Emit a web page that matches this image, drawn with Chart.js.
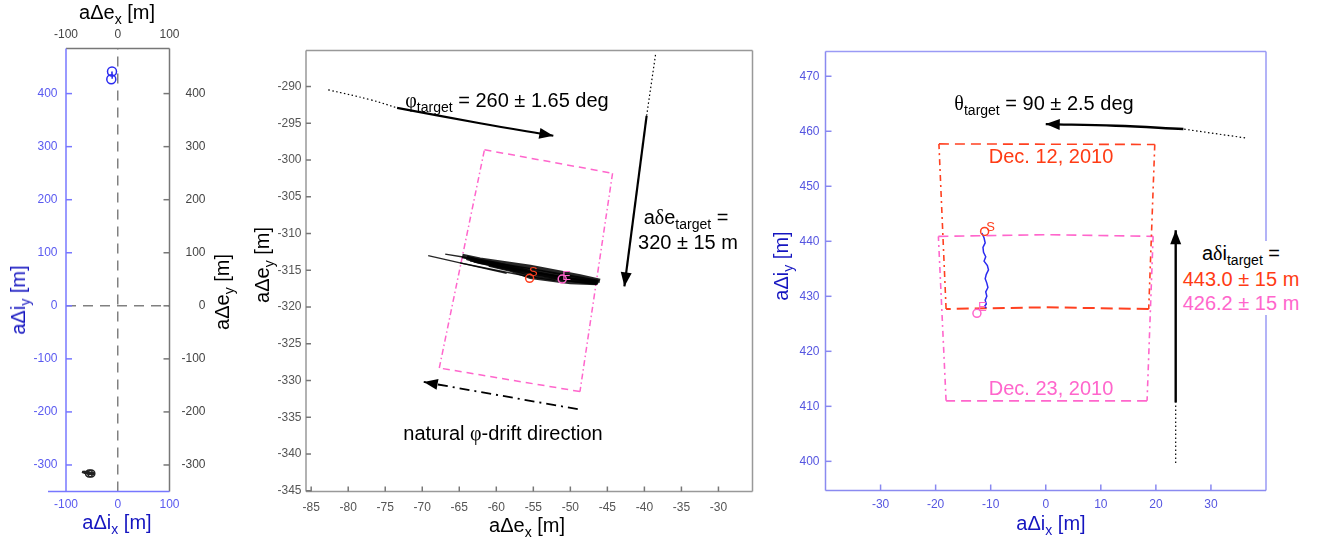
<!DOCTYPE html>
<html>
<head>
<meta charset="utf-8">
<script src="https://cdn.jsdelivr.net/npm/chart.js@4.4.1/dist/chart.umd.min.js"></script>
<style>
body { margin: 0; background: #fff; }
#wrap { position: relative; width: 1324px; height: 543px; overflow: hidden; font-family: 'Liberation Sans', Arial, sans-serif; }
canvas { position: absolute; left: 0; top: 0; }
.t { position: absolute; transform: translate(-50%, -50%); white-space: nowrap; font-size: 20px; line-height: 1; color: #000; }
.r { transform: translate(-50%, -50%) rotate(-90deg); }
.s { font-size: 14px; position: relative; top: 5px; }
.g { font-family: 'Liberation Serif', 'DejaVu Serif', serif; }
.blue { color: #1515c0; }
.red { color: #ff3b14; }
.pink { color: #ff66cc; }
#dibox { position: absolute; left: 1182px; top: 241px; width: 118px; background: #fff; text-align: center; font-size: 20px; line-height: 24px; white-space: nowrap; }
</style>
</head>
<body>
<div id="wrap">
  <canvas id="p1" width="1324" height="543"></canvas>
  <canvas id="p2" width="1324" height="543"></canvas>
  <canvas id="p3" width="1324" height="543"></canvas>

  <div class="t" style="left:117px;top:12px">aΔe<span class="s">x</span> [m]</div>
  <div class="t blue" style="left:117px;top:522px">aΔi<span class="s">x</span> [m]</div>
  <div class="t r blue" style="left:18px;top:300px">aΔi<span class="s">y</span> [m]</div>
  <div class="t r" style="left:222px;top:292px">aΔe<span class="s">y</span> [m]</div>

  <div class="t r" style="left:262px;top:265px">aΔe<span class="s">y</span> [m]</div>
  <div class="t" style="left:527px;top:525px">aΔe<span class="s">x</span> [m]</div>
  <div class="t" style="left:507px;top:100px"><span class="g">φ</span><span class="s">target</span> = 260 ± 1.65 deg</div>
  <div class="t" style="left:686px;top:217px">a<span class="g">δ</span>e<span class="s">target</span> =</div>
  <div class="t" style="left:688px;top:242px">320 ± 15 m</div>
  <div class="t" style="left:503px;top:433px">natural <span class="g">φ</span>-drift direction</div>

  <div class="t blue" style="left:1051px;top:523px">aΔi<span class="s">x</span> [m]</div>
  <div class="t r blue" style="left:781px;top:266px">aΔi<span class="s">y</span> [m]</div>
  <div class="t" style="left:1044px;top:103px"><span class="g">θ</span><span class="s">target</span> = 90 ± 2.5 deg</div>
  <div class="t red" style="left:1051px;top:156px">Dec. 12, 2010</div>
  <div class="t pink" style="left:1051px;top:388px">Dec. 23, 2010</div>
  <div id="dibox">
    <div>a<span class="g">δ</span>i<span class="s">target</span> =</div>
    <div class="red">443.0 ± 15 m</div>
    <div class="pink">426.2 ± 15 m</div>
  </div>
</div>

<script>
// tick values
const p1XTicks = [-100, 0, 100];
const p1YTicks = [-300, -200, -100, 0, 100, 200, 300, 400];
const p2XTicks = [-85, -80, -75, -70, -65, -60, -55, -50, -45, -40, -35, -30];
const p2YTicks = [-345, -340, -335, -330, -325, -320, -315, -310, -305, -300, -295, -290];
const p3XTicks = [-30, -20, -10, 0, 10, 20, 30];
const p3YTicks = [400, 410, 420, 430, 440, 450, 460, 470];

// relative e-vector, several overlapping passes (aΔe_x, aΔe_y)
const ePass1X = [-64.6, -62.2, -55.4, -48.7, -46.0];
const ePass1Y = [-313.05, -313.55, -314.55, -315.85, -316.45];
const ePass2X = [-64.0, -62.2, -55.4, -48.7, -46.2];
const ePass2Y = [-313.3, -313.85, -315.0, -316.15, -316.6];
const ePass3X = [-63.0, -60.0, -55.4, -48.7, -46.3];
const ePass3Y = [-313.65, -314.35, -315.45, -316.45, -316.7];
const ePass4X = [-61.0, -58.0, -55.4, -50.0, -46.5];
const ePass4Y = [-314.3, -315.0, -315.95, -316.65, -316.8];
const ePass8X = [-63.5, -60.0, -55.4, -50.0, -46.4];
const ePass8Y = [-313.5, -314.15, -315.25, -316.3, -316.65];
const ePass5X = [-69.2, -64.0, -58.6];
const ePass5Y = [-313.0, -314.2, -315.4];
const ePass6X = [-66.9, -64.5, -62.2];
const ePass6Y = [-312.8, -313.2, -313.8];
const ePass7X = [-64.9, -60.0, -55.4, -52.0];
const ePass7Y = [-314.0, -315.0, -315.9, -316.4];
const eStart = [-55.5, -316.1];
const eEnd = [-51.1, -316.2];

// relative i-vector (aΔi_x, aΔi_y)
const iTrackX = [-11.6, -11.2, -11.0, -11.4, -11.3, -10.9, -11.2, -10.6, -10.4, -10.8, -11.0, -10.7, -10.5, -10.9, -10.7, -11.0, -10.8, -11.1, -10.8];
const iTrackY = [441.5, 440.6, 439.7, 438.9, 438.0, 437.2, 436.4, 435.6, 434.8, 434.0, 433.2, 432.4, 431.6, 430.8, 430.0, 429.3, 428.6, 428.2, 427.9];
const iStart = [-11.1, 441.8];
const iEnd = [-12.5, 426.9];

// target windows
const eWinX = [-61.6, -44.3, -48.7, -67.7];
const eWinY = [-298.6, -301.8, -331.5, -328.3];
const dec12X = [-19.4, 19.8, 18.7, 0, -18.1];
const dec12Y = [457.7, 457.6, 427.7, 428.0, 427.7];
const dec23X = [-19.5, 0, 19.5, 18.4, -18.1];
const dec23Y = [440.9, 441.2, 440.9, 411.0, 411.0];

// annotation arrows
const phiDotX = [-82.7, -77.0, -73.4];
const phiDotY = [-290.45, -291.8, -292.9];
const phiArrX = [-73.4, -62.2, -52.3];
const phiArrY = [-292.9, -295.0, -296.7];
const deDotX = [-38.5, -39.7];
const deDotY = [-285.7, -294.0];
const deArrX = [-39.7, -42.7];
const deArrY = [-294.0, -317.2];
const driftX = [-49.0, -69.8];
const driftY = [-333.9, -330.2];
const thDotX = [36.2, 25.0];
const thDotY = [458.8, 460.4];
const thArrX = [25.0, 12.7, 0.0];
const thArrY = [460.4, 461.0, 461.3];
const diDotX = [23.6, 23.6];
const diDotY = [399.7, 410.7];
const diArrX = [23.6, 23.6];
const diArrY = [410.7, 442.0];

const RED = '#ff4020';
const PINK = '#ff66cc';
const BLUE = '#2b2bf0';

Chart.defaults.font.family = "'Liberation Sans', Arial, sans-serif";
Chart.defaults.font.size = 12;

function mk(xs, ys) {
  return xs.map((x, i) => ({x: x, y: ys[i]}));
}

function line(xs, ys, color, width, dash, extra) {
  return Object.assign({
    data: mk(xs, ys), showLine: true, pointRadius: 0,
    borderColor: color, borderWidth: width, borderDash: dash || [],
    fill: false, tension: 0
  }, extra || {});
}

function edge(xs, ys, idx, color, width, dash) {
  return line(idx.map(i => xs[i]), idx.map(i => ys[i]), color, width, dash);
}

function marker(pt, color, r, extra) {
  return Object.assign({
    data: [{x: pt[0], y: pt[1]}], showLine: false, pointRadius: r,
    pointStyle: 'circle', pointBorderColor: color, pointBackgroundColor: 'rgba(0,0,0,0)',
    pointBorderWidth: 1.5
  }, extra || {});
}

function axis(pos, min, max, vals, color, size, pad, extra) {
  return {
    type: 'linear', position: pos, min: min, max: max,
    afterBuildTicks: s => { s.ticks = vals.map(v => ({value: v})); },
    afterFit: s => { if (s.isHorizontal()) s.height = size; else s.width = size; },
    grid: {display: false, drawTicks: false},
    border: {display: false},
    ticks: Object.assign({color: color, padding: pad, autoSkip: false, maxRotation: 0}, extra || {})
  };
}

// box round the plot area plus inward tick marks
function framePlugin(cfg) {
  return {
    id: 'frame',
    afterDatasetsDraw(chart) {
      const {left, right, top, bottom} = chart.chartArea;
      const ctx = chart.ctx;
      ctx.save();
      ctx.lineWidth = cfg.width;
      const side = (c, x1, y1, x2, y2) => {
        ctx.strokeStyle = c;
        ctx.beginPath(); ctx.moveTo(x1, y1); ctx.lineTo(x2, y2); ctx.stroke();
      };
      side(cfg.top, left, top, right, top);
      side(cfg.right, right, top, right, bottom);
      side(cfg.bottom, left - (cfg.bottomExtend || 0), bottom, right, bottom);
      side(cfg.left, left, top, left, bottom);
      (cfg.ticks || []).forEach(t => {
        const s = chart.scales[t.id];
        ctx.strokeStyle = t.color;
        s.ticks.forEach(tk => {
          const p = s.getPixelForValue(tk.value);
          ctx.beginPath();
          if (s.isHorizontal()) {
            const y0 = s.position === 'top' ? top : bottom;
            const d = s.position === 'top' ? 1 : -1;
            ctx.moveTo(p, y0); ctx.lineTo(p, y0 + d * cfg.len);
          } else {
            const x0 = s.position === 'left' ? left : right;
            const d = s.position === 'left' ? 1 : -1;
            ctx.moveTo(x0, p); ctx.lineTo(x0 + d * cfg.len, p);
          }
          ctx.stroke();
        });
      });
      ctx.restore();
    }
  };
}

// filled arrow heads on datasets flagged with arrow:true, and S/E letters
function extrasPlugin(letters) {
  return {
    id: 'extras',
    afterDatasetsDraw(chart) {
      const ctx = chart.ctx;
      chart.data.datasets.forEach((ds, i) => {
        if (!ds.arrow) return;
        const pts = chart.getDatasetMeta(i).data;
        const a = pts[pts.length - 2], b = pts[pts.length - 1];
        const ang = Math.atan2(b.y - a.y, b.x - a.x);
        ctx.save();
        ctx.translate(b.x, b.y);
        ctx.rotate(ang);
        ctx.fillStyle = ds.borderColor;
        ctx.beginPath();
        ctx.moveTo(0, 0); ctx.lineTo(-14, -5.5); ctx.lineTo(-14, 5.5);
        ctx.closePath(); ctx.fill();
        ctx.restore();
      });
      ctx.save();
      ctx.font = "13px 'Liberation Sans', Arial, sans-serif";
      ctx.textAlign = 'center';
      ctx.textBaseline = 'middle';
      letters.forEach(l => {
        ctx.fillStyle = l.color;
        ctx.fillText(l.text, chart.scales.x.getPixelForValue(l.x), chart.scales.y.getPixelForValue(l.y));
      });
      ctx.restore();
    }
  };
}

function baseOptions(pad, scales) {
  return {
    responsive: false, animation: false, events: [],
    layout: {padding: pad},
    scales: scales,
    plugins: {legend: {display: false}, tooltip: {enabled: false}}
  };
}

const DOT = [1.5, 2.5];
const ePasses = [[ePass1X, ePass1Y, 4.5], [ePass2X, ePass2Y, 4.5], [ePass8X, ePass8Y, 4.5], [ePass3X, ePass3Y, 4.5],
  [ePass4X, ePass4Y, 3.5], [ePass5X, ePass5Y, 1.4], [ePass6X, ePass6Y, 1.4], [ePass7X, ePass7Y, 1.4]];

// ---------- panel 1: overview, e (top/right) and i (bottom/left) ----------
const p1Data = [
  marker(iStart, BLUE, 4.5), marker(iEnd, BLUE, 4.5),
  line(iTrackX, iTrackY, BLUE, 1.5),
  marker(eStart, '#222', 3.5, {xAxisID: 'x2', yAxisID: 'y2'}),
  marker(eEnd, '#222', 3.5, {xAxisID: 'x2', yAxisID: 'y2'})
];
ePasses.forEach(p => p1Data.push(line(p[0], p[1], '#222', 2.5, [], {xAxisID: 'x2', yAxisID: 'y2'})));
p1Data.push(line([0, 0], [-350, 485], '#808080', 1.5, [10, 7]));
p1Data.push(line([-100, 100], [0, 0], '#808080', 1.5, [10, 7]));

new Chart(document.getElementById('p1'), {
  type: 'scatter',
  data: {datasets: p1Data},
  options: baseOptions({left: 16, right: 1118.5, top: 18.5, bottom: 21.5}, {
    x: axis('bottom', -100, 100, p1XTicks, '#5a5af0', 30, 6.3),
    x2: axis('top', -100, 100, p1XTicks, '#444', 30, 7),
    y: axis('left', -350, 485, p1YTicks, '#5a5af0', 50, 8.5),
    y2: axis('right', -350, 485, p1YTicks, '#444', 36, 11.5, {crossAlign: 'far'})
  }),
  plugins: [framePlugin({width: 1.5, top: '#777', right: '#777', bottom: '#7777ff', left: '#7777ff', bottomExtend: 18, len: 6,
    ticks: [{id: 'y', color: '#7777ff'}, {id: 'y2', color: '#777'}]}), extrasPlugin([])]
});

// ---------- panel 2: e-vector zoom ----------
const p2Data = [
  marker(eStart, RED, 4), marker(eEnd, PINK, 4)
];
ePasses.forEach(p => p2Data.push(line(p[0], p[1], 'rgba(0,0,0,0.85)', p[2])));
p2Data.push(
  edge(eWinX, eWinY, [0, 1], PINK, 1.5, [7, 5]),
  edge(eWinX, eWinY, [2, 3], PINK, 1.5, [7, 5]),
  edge(eWinX, eWinY, [1, 2], PINK, 1.5, [6, 3, 1.5, 3]),
  edge(eWinX, eWinY, [3, 0], PINK, 1.5, [6, 3, 1.5, 3]),
  line(phiDotX, phiDotY, '#000', 1.2, DOT, {tension: 0.4}),
  line(phiArrX, phiArrY, '#000', 2.2, [], {tension: 0.4, arrow: true}),
  line(deDotX, deDotY, '#000', 1.2, DOT),
  line(deArrX, deArrY, '#000', 2.2, [], {arrow: true}),
  line(driftX, driftY, '#000', 1.8, [10, 5, 2, 5], {arrow: true})
);

new Chart(document.getElementById('p2'), {
  type: 'scatter',
  data: {datasets: p2Data},
  options: baseOptions({left: 256, right: 571.5, top: 50.5, bottom: 21.5}, {
    x: axis('bottom', -85.7, -25.4, p2XTicks, '#555', 30, 9),
    y: axis('left', -345.1, -285.1, p2YTicks, '#555', 50, 4.5)
  }),
  plugins: [framePlugin({width: 1.5, top: '#999', right: '#999', bottom: '#999', left: '#999', len: 5,
    ticks: [{id: 'x', color: '#777'}, {id: 'y', color: '#777'}]}),
    extrasPlugin([{x: -55.0, y: -315.3, text: 'S', color: RED}, {x: -50.5, y: -315.9, text: 'E', color: PINK}])]
});

// ---------- panel 3: i-vector zoom ----------
const p3Data = [
  marker(iStart, RED, 4), marker(iEnd, PINK, 4),
  line(iTrackX, iTrackY, BLUE, 1.5),
  edge(dec12X, dec12Y, [0, 1], RED, 1.6, [10, 6]),
  edge(dec12X, dec12Y, [2, 3, 4], RED, 2, [12, 6]),
  edge(dec12X, dec12Y, [1, 2], RED, 1.6, [6, 4, 2, 4]),
  edge(dec12X, dec12Y, [4, 0], RED, 1.6, [6, 4, 2, 4]),
  edge(dec23X, dec23Y, [0, 1, 2], PINK, 1.6, [10, 6]),
  edge(dec23X, dec23Y, [3, 4], PINK, 1.6, [10, 6]),
  edge(dec23X, dec23Y, [2, 3], PINK, 1.6, [6, 4, 2, 4]),
  edge(dec23X, dec23Y, [4, 0], PINK, 1.6, [6, 4, 2, 4]),
  line(thDotX, thDotY, '#000', 1.2, DOT),
  line(thArrX, thArrY, '#000', 2.4, [], {tension: 0.4, arrow: true}),
  line(diDotX, diDotY, '#000', 1.2, DOT),
  line(diArrX, diArrY, '#000', 2.4, [], {arrow: true})
];

new Chart(document.getElementById('p3'), {
  type: 'scatter',
  data: {datasets: p3Data},
  options: baseOptions({left: 775.5, right: 58, top: 51.5, bottom: 22.5}, {
    x: axis('bottom', -40, 40, p3XTicks, '#5555e0', 30, 7.3),
    y: axis('left', 394.7, 474.5, p3YTicks, '#5555e0', 50, 6)
  }),
  plugins: [framePlugin({width: 1.5, top: '#9a9af5', right: '#9a9af5', bottom: '#8a8af0', left: '#8a8af0', len: 6,
    ticks: [{id: 'x', color: '#8888f0'}, {id: 'y', color: '#8888f0'}]}),
    extrasPlugin([{x: -10.0, y: 442.5, text: 'S', color: RED}, {x: -11.5, y: 428.0, text: 'E', color: PINK}])]
});
</script>
</body>
</html>
